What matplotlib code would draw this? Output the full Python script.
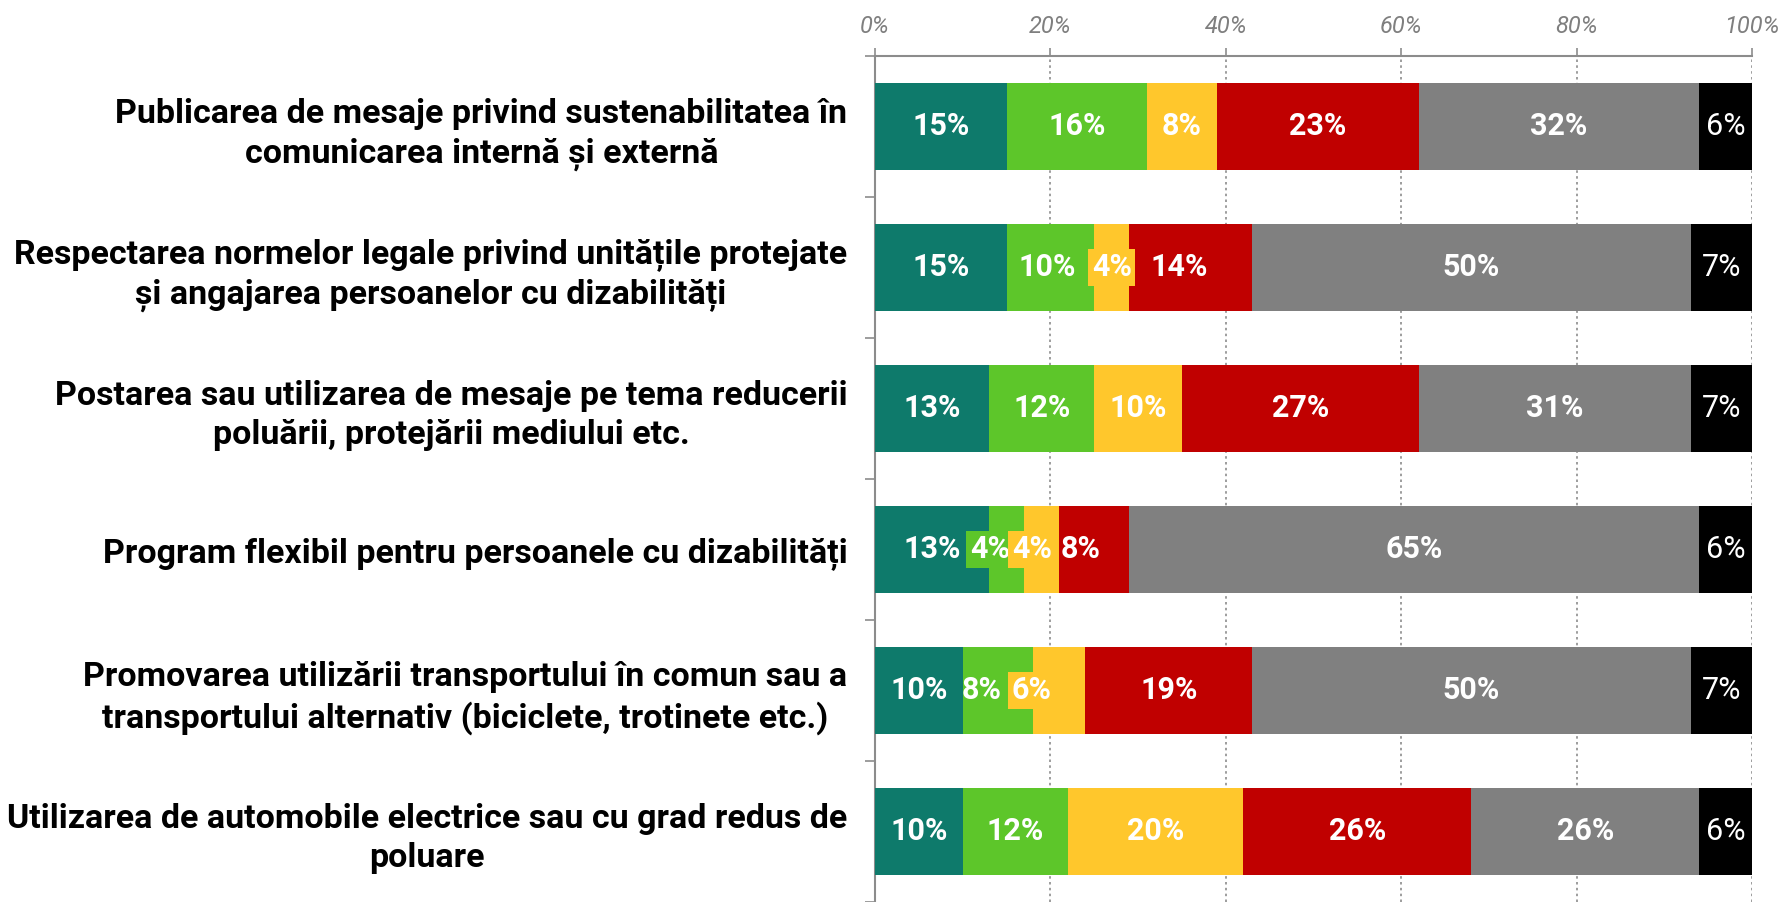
import matplotlib
matplotlib.use("Agg")
import matplotlib.pyplot as plt
import numpy as np

categories = [
    "Publicarea de mesaje privind sustenabilitatea în\ncomunicarea internă și externă",
    "Respectarea normelor legale privind unitățile protejate\nși angajarea persoanelor cu dizabilități",
    "Postarea sau utilizarea de mesaje pe tema reducerii\npoluării, protejării mediului etc.",
    "Program flexibil pentru persoanele cu dizabilități",
    "Promovarea utilizării transportului în comun sau a\ntransportului alternativ (biciclete, trotinete etc.)",
    "Utilizarea de automobile electrice sau cu grad redus de\npoluare",
]
s1 = [15, 15, 13, 13, 10, 10]
s2 = [16, 10, 12, 4, 8, 12]
s3 = [8, 4, 10, 4, 6, 20]
s4 = [23, 14, 27, 8, 19, 26]
s5 = [32, 50, 31, 65, 50, 26]
s6 = [6, 7, 7, 6, 7, 6]
series = [s1, s2, s3, s4, s5, s6]
colors = ["#0E7A6B", "#5DC62A", "#FFC72C", "#C00000", "#808080", "#000000"]
xticks = [0, 20, 40, 60, 80, 100]
xticklabels = ["0%", "20%", "40%", "60%", "80%", "100%"]

# small labels that get a coloured box, and horizontal nudges (points)
boxed = {(1, 2), (3, 1), (3, 2), (4, 2)}
nudge = {(1, 3): -8, (3, 1): -12, (3, 2): -7, (3, 3): -10, (4, 1): -12, (4, 2): -20, (1, 1): -2}

FONT = ["Roboto", "DejaVu Sans"]

fig = plt.figure(figsize=(17.84, 9.02), dpi=100)
ax = fig.add_axes([0.4905, 0.0, 0.9820 - 0.4905, 0.938])

y = np.arange(len(categories))
left = np.zeros(len(categories))
for si, (vals, col) in enumerate(zip(series, colors)):
    vals = np.array(vals, dtype=float)
    ax.barh(y, vals, left=left, height=0.62, color=col, edgecolor="none", zorder=3)
    for ri, v in enumerate(vals):
        cx = left[ri] + v / 2
        kw = dict(ha="center", va="center", color="white", fontsize=22,
                  family=FONT, weight="normal" if si == 5 else "bold", zorder=5)
        if (ri, si) in boxed:
            kw["bbox"] = dict(boxstyle="square,pad=0.12", fc=col, ec="none")
        ax.annotate(f"{int(round(v))}%", (cx, ri), xytext=(nudge.get((ri, si), 0), 0),
                    textcoords="offset points", **kw)
    left += vals

ax.set_xlim(0, 100)
ax.set_ylim(len(categories) - 0.5, -0.5)

ax.xaxis.tick_top()
ax.set_xticks(xticks)
ax.set_xticklabels(xticklabels, fontsize=17, color="#7F7F7F", style="italic", family=FONT)
ax.tick_params(axis="x", direction="out", length=6, width=1.2, color="#8C8C8C", pad=7)

ax.set_yticks(y)
ax.set_yticklabels(categories, fontsize=24.5, weight="bold", family=FONT,
                   ha="right", multialignment="center", linespacing=1.3)
ax.tick_params(axis="y", which="major", length=0, pad=20)
ax.set_yticks(np.arange(len(categories) + 1) - 0.5, minor=True)
ax.tick_params(axis="y", which="minor", direction="out", length=7, width=1.2, color="#8C8C8C")

ax.grid(axis="x", linestyle=(0, (1.5, 2)), color="#8C8C8C", linewidth=1.2, zorder=0)
for s in ["right", "bottom"]:
    ax.spines[s].set_visible(False)
for s in ["top", "left"]:
    ax.spines[s].set_color("#8C8C8C")
    ax.spines[s].set_linewidth(1.5)

fig.savefig("out.png", dpi=100)
